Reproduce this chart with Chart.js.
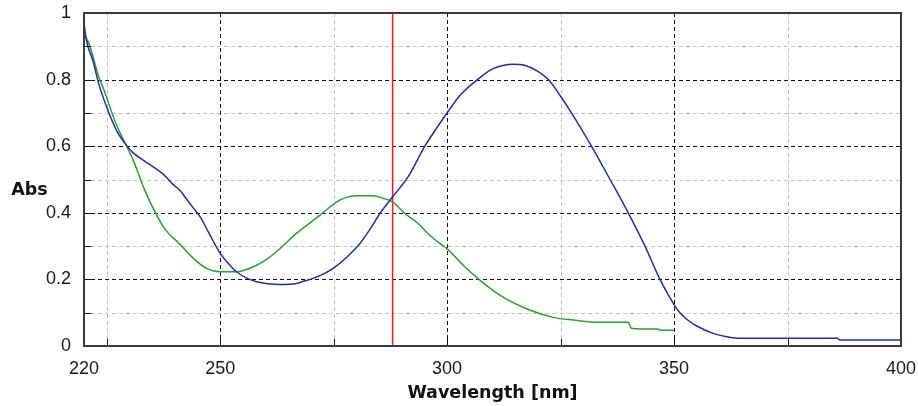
<!DOCTYPE html>
<html>
<head>
<meta charset="utf-8">
<script src="https://cdn.jsdelivr.net/npm/chart.js@4.4.1/dist/chart.umd.min.js"></script>
<style>
  html, body { margin: 0; padding: 0; background: #fff; }
  #wrap { width: 918px; height: 406px; }
</style>
</head>
<body>
<div id="wrap"><canvas id="spec"></canvas></div>
<script>
// Spectrum 1 (blue): wavelength [nm] / absorbance
const blueWl  = [220, 220.5, 222, 223.3, 225.5, 227.3, 228.8, 230.6, 233.6, 237.6, 239.8, 241.1, 242.5, 244.1, 245.6, 247.5, 250, 252, 253.6, 256, 258, 260.5, 263.2, 266.8, 268.5, 270.5, 273, 274.9, 278, 280.8, 283, 285.2, 288, 291.5, 295.1, 300, 303, 306.7, 310, 312.5, 314.6, 317, 320, 322.3, 325, 327.4, 331.8, 335.9, 339.9, 343.6, 346.9, 350.2, 351.3, 353, 355, 358.6, 361.6, 364.9, 386, 386.5, 400];
const blueAbs = [0.97, 0.92, 0.855, 0.785, 0.70, 0.644, 0.613, 0.583, 0.553, 0.514, 0.483, 0.468, 0.443, 0.414, 0.388, 0.34, 0.278, 0.245, 0.223, 0.203, 0.193, 0.187, 0.185, 0.188, 0.195, 0.203, 0.218, 0.233, 0.268, 0.308, 0.35, 0.398, 0.448, 0.51, 0.60, 0.70, 0.755, 0.80, 0.832, 0.843, 0.846, 0.843, 0.825, 0.80, 0.75, 0.70, 0.60, 0.50, 0.40, 0.30, 0.20, 0.12, 0.10, 0.078, 0.060, 0.038, 0.028, 0.023, 0.023, 0.018, 0.018];

// Spectrum 2 (green)
const greenWl  = [220, 221.3, 223.2, 224.4, 227, 229.5, 231, 233.2, 235.8, 238, 241.1, 244.1, 247, 250, 253.6, 257.3, 260, 262.4, 266.8, 272, 275.7, 278, 280.1, 283.7, 286, 288, 290.7, 293.6, 296, 298.4, 299.9, 303.9, 307.2, 311.6, 318.2, 323.4, 327.8, 333.7, 339.9, 340.6, 342.5, 346.5, 347, 350];
const greenAbs = [0.94, 0.90, 0.81, 0.769, 0.669, 0.597, 0.553, 0.474, 0.398, 0.348, 0.306, 0.263, 0.233, 0.223, 0.223, 0.238, 0.258, 0.283, 0.338, 0.393, 0.433, 0.447, 0.451, 0.451, 0.443, 0.433, 0.398, 0.368, 0.335, 0.308, 0.293, 0.238, 0.198, 0.153, 0.108, 0.086, 0.078, 0.071, 0.071, 0.053, 0.051, 0.051, 0.047, 0.047];

// cursor position
const cursorWl = 288;

// axes
const xMin = 220, xMax = 400;
const xTickValues = [220, 225, 250, 275, 300, 325, 350, 375, 400];
const xTickLabels = [220, 250, 300, 350, 400];
const xMajorGrid = [250, 300, 350];
const xMinorGrid = [225, 275, 325, 375];
const yMajorGrid = [0.2, 0.4, 0.6, 0.8];
const yMinorGrid = [0.1, 0.3, 0.5, 0.7, 0.9];

const toPoints = (xs, ys) => xs.map((x, i) => ({ x: x, y: ys[i] }));

const gridPlugin = {
    id: 'specGrid',
    beforeDatasetsDraw(chart) {
        const { ctx, chartArea: a, scales: { x, y } } = chart;
        ctx.save();
        ctx.lineWidth = 1;
        ctx.setLineDash([4, 3]);
        const vline = v => { const px = Math.round(x.getPixelForValue(v)) + 0.5; ctx.beginPath(); ctx.moveTo(px, a.top); ctx.lineTo(px, a.bottom); ctx.stroke(); };
        const hline = v => { const py = Math.round(y.getPixelForValue(v)) + 0.5; ctx.beginPath(); ctx.moveTo(a.left, py); ctx.lineTo(a.right, py); ctx.stroke(); };
        ctx.strokeStyle = '#c4c4c4';
        xMinorGrid.forEach(vline);
        yMinorGrid.forEach(hline);
        ctx.strokeStyle = '#111';
        xMajorGrid.forEach(vline);
        yMajorGrid.forEach(hline);
        ctx.restore();
    },
    afterDatasetsDraw(chart) {
        const { ctx, chartArea: a, scales: { x, y } } = chart;
        ctx.save();
        // inward tick marks
        ctx.strokeStyle = '#111';
        ctx.lineWidth = 1;
        xTickValues.slice(1, -1).forEach(v => {
            const px = Math.round(x.getPixelForValue(v)) + 0.5;
            ctx.beginPath(); ctx.moveTo(px, a.bottom); ctx.lineTo(px, a.bottom - 7); ctx.stroke();
        });
        yMajorGrid.concat(yMinorGrid).forEach(v => {
            const py = Math.round(y.getPixelForValue(v)) + 0.5;
            ctx.beginPath(); ctx.moveTo(a.left, py); ctx.lineTo(a.left + 7, py); ctx.stroke();
        });
        // frame
        ctx.strokeStyle = '#3a3a3a';
        ctx.lineWidth = 2;
        ctx.strokeRect(a.left, a.top, a.right - a.left, a.bottom - a.top);
        // horizontal y axis label
        ctx.fillStyle = '#111';
        ctx.font = 'bold 17.5px "DejaVu Sans"';
        ctx.textAlign = 'center';
        ctx.textBaseline = 'middle';
        ctx.fillText('Abs', 29.5, 190);
        ctx.restore();
    }
};

const ctx = document.getElementById('spec').getContext('2d');
new Chart(ctx, {
    type: 'scatter',
    data: {
        datasets: [
            {
                data: toPoints(blueWl, blueAbs),
                showLine: true,
                borderColor: '#2b2ba3',
                borderWidth: 1.5,
                pointRadius: 0,
                cubicInterpolationMode: 'monotone'
            },
            {
                data: toPoints(greenWl, greenAbs),
                showLine: true,
                borderColor: '#2ea02e',
                borderWidth: 1.5,
                pointRadius: 0,
                cubicInterpolationMode: 'monotone'
            },
            {
                data: [{ x: cursorWl, y: 0 }, { x: cursorWl, y: 1 }],
                showLine: true,
                borderColor: '#ff1a1a',
                borderWidth: 1.5,
                pointRadius: 0
            }
        ]
    },
    options: {
        responsive: true,
        maintainAspectRatio: false,
        animation: false,
        layout: { padding: { top: 13, right: 17, left: 0, bottom: 0 } },
        plugins: {
            legend: { display: false },
            tooltip: { enabled: false }
        },
        scales: {
            x: {
                type: 'linear',
                min: xMin,
                max: xMax,
                afterBuildTicks: s => { s.ticks = xTickValues.map(v => ({ value: v })); },
                afterFit: s => { s.height = 60; s.paddingLeft = 0; s.paddingRight = 0; },
                grid: { display: false },
                border: { display: false },
                ticks: {
                    autoSkip: false,
                    maxRotation: 0,
                    padding: 4,
                    color: '#1a1a1a',
                    font: { family: '"Liberation Sans"', size: 18 },
                    callback: v => xTickLabels.includes(v) ? String(v) : ''
                },
                title: {
                    display: true,
                    text: 'Wavelength [nm]',
                    color: '#111',
                    font: { family: '"DejaVu Sans"', size: 17.5, weight: 'bold' },
                    padding: { top: 0, bottom: 2 }
                }
            },
            y: {
                min: 0,
                max: 1,
                afterFit: s => { s.width = 84; s.paddingTop = 0; s.paddingBottom = 0; },
                grid: { display: false },
                border: { display: false },
                ticks: {
                    stepSize: 0.1,
                    padding: 5,
                    color: '#1a1a1a',
                    font: { family: '"Liberation Sans"', size: 18 },
                    callback: v => {
                        const t = Math.round(v * 10);
                        return t % 2 === 0 ? String(t / 10) : '';
                    }
                }
            }
        }
    },
    plugins: [gridPlugin]
});
</script>
</body>
</html>
